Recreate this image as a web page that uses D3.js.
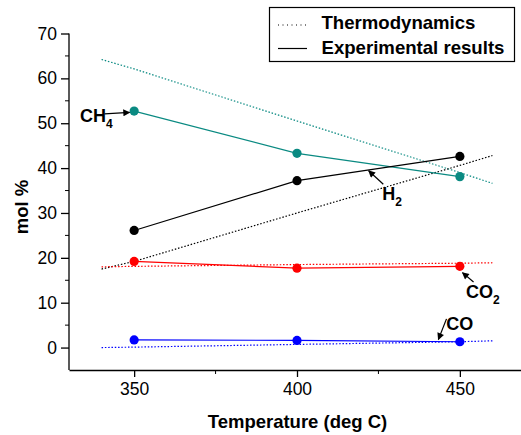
<!DOCTYPE html>
<html>
<head>
<meta charset="utf-8">
<script src="https://cdn.jsdelivr.net/npm/d3@7"></script>
<style>
  body { margin: 0; background: #fff; }
  text { font-family: "Liberation Sans", Arial, sans-serif; }
</style>
</head>
<body>
<div id="wrapper"></div>
<script>
// experimental results
const expTemps = [350, 400, 450]
const expCH4 = [52.7, 43.3, 38.1]
const expH2 = [26.1, 37.2, 42.6]
const expCO2 = [19.2, 17.7, 18.1]
const expCO = [1.7, 1.6, 1.3]

// thermodynamic equilibrium (dotted)
const thermoTemps = [340, 350, 400, 450, 460]
const thermoCH4 = [64.2, 62.1, 50.5, 39.0, 36.6]
const thermoH2 = [17.5, 19.2, 30.0, 40.6, 42.8]
const thermoCO2 = [18.0, 18.1, 18.5, 18.8, 18.9]
const thermoCO = [0.0, 0.1, 0.7, 1.3, 1.5]

const speciesColors = ['#0a8a82', '#000000', '#ff0000', '#0000ff']

const xTicks = [350, 400, 450]
const xMinorTicks = [375, 425]
const yTicks = [0, 10, 20, 30, 40, 50, 60, 70]
const yMinorTicks = [5, 15, 25, 35, 45, 55, 65]

// annotation: label, subscript, text pos, arrow from -> to (data units)
const annotations = [
  { label: 'CH', sub: '4', tx: 333.4, ty: 50.3, x1: 340.9, y1: 52.1, x2: 348.6, y2: 52.4 },
  { label: 'H', sub: '2', tx: 426.2, ty: 32.9, x1: 426.5, y1: 36.4, x2: 422.0, y2: 39.4 },
  { label: 'CO', sub: '2', tx: 451.9, ty: 11.0, x1: 454.2, y1: 14.6, x2: 450.8, y2: 16.7 },
  { label: 'CO', sub: '', tx: 445.8, ty: 4.0, x1: 445.9, y1: 6.4, x2: 443.4, y2: 1.8 },
]

const width = 521
const height = 435

const svg = d3.select('#wrapper').append('svg')
  .attr('width', width)
  .attr('height', height)

const defs = svg.append('defs')
defs.append('marker')
  .attr('id', 'arrow')
  .attr('viewBox', '0 0 10 10')
  .attr('refX', 9)
  .attr('refY', 5)
  .attr('markerWidth', 9)
  .attr('markerHeight', 7)
  .attr('markerUnits', 'userSpaceOnUse')
  .attr('orient', 'auto')
  .append('path')
  .attr('d', 'M0,0 L10,5 L0,10 z')
  .attr('fill', '#000')

// Scales
const xScale = d3.scaleLinear().domain([330, 470]).range([69, 525])
const yScale = d3.scaleLinear().domain([-5, 70]).range([370, 33.5])

// Axes
const yAxis = svg.append('g')
  .attr('transform', 'translate(69,0)')
  .call(d3.axisLeft(yScale).tickValues(yTicks).tickSize(8).tickPadding(4).tickSizeOuter(0))
yAxis.select('.domain').attr('d', `M0,${yScale(-5)}V${yScale(70)}`)
yAxis.selectAll('g.minor').data(yMinorTicks).enter()
  .append('line')
  .attr('x1', -4).attr('x2', 0)
  .attr('y1', (d) => yScale(d)).attr('y2', (d) => yScale(d))
  .attr('stroke', '#000')

const xAxis = svg.append('g')
  .attr('transform', `translate(0,${yScale(-5)})`)
  .call(d3.axisBottom(xScale).tickValues(xTicks).tickSize(7).tickPadding(6).tickSizeOuter(0))
xAxis.selectAll('g.minor').data(xMinorTicks).enter()
  .append('line')
  .attr('x1', (d) => xScale(d)).attr('x2', (d) => xScale(d))
  .attr('y1', 0).attr('y2', 4)
  .attr('stroke', '#000')

svg.selectAll('.tick text').style('font-size', '17.5px').attr('fill', '#000')
svg.selectAll('.domain, .tick line').attr('stroke', '#000').attr('stroke-width', 1.3)

svg.append('text')
  .attr('transform', 'translate(28,207) rotate(-90)')
  .attr('text-anchor', 'middle')
  .style('font-size', '18.5px')
  .style('font-weight', 'bold')
  .text('mol %')

svg.append('text')
  .attr('x', 297.5)
  .attr('y', 428)
  .attr('text-anchor', 'middle')
  .style('font-size', '18.5px')
  .style('font-weight', 'bold')
  .text('Temperature (deg C)')

// Lines
const line = d3.line()
  .x((d) => xScale(d[0]))
  .y((d) => yScale(d[1]))

const thermoSeries = [thermoCH4, thermoH2, thermoCO2, thermoCO]
const expSeries = [expCH4, expH2, expCO2, expCO]

thermoSeries.forEach((vals, i) => {
  svg.append('path')
    .attr('fill', 'none')
    .attr('stroke', speciesColors[i])
    .attr('stroke-width', 1.2)
    .attr('stroke-dasharray', '1.5,1.8')
    .attr('d', line(thermoTemps.map((t, j) => [t, vals[j]])))
})

expSeries.forEach((vals, i) => {
  const pts = expTemps.map((t, j) => [t, vals[j]])
  svg.append('path')
    .attr('fill', 'none')
    .attr('stroke', speciesColors[i])
    .attr('stroke-width', 1.2)
    .attr('d', line(pts))
  svg.append('g').selectAll('circle')
    .data(pts)
    .enter()
    .append('circle')
    .attr('cx', (d) => xScale(d[0]))
    .attr('cy', (d) => yScale(d[1]))
    .attr('r', 4.6)
    .attr('fill', speciesColors[i])
})

// Annotations
annotations.forEach((a) => {
  svg.append('line')
    .attr('x1', xScale(a.x1)).attr('y1', yScale(a.y1))
    .attr('x2', xScale(a.x2)).attr('y2', yScale(a.y2))
    .attr('stroke', '#000')
    .attr('stroke-width', 1.2)
    .attr('marker-end', 'url(#arrow)')
  const t = svg.append('text')
    .attr('x', xScale(a.tx))
    .attr('y', yScale(a.ty))
    .style('font-size', '18px')
    .style('font-weight', 'bold')
  t.append('tspan').text(a.label)
  if (a.sub) {
    t.append('tspan').attr('dy', 6).style('font-size', '12px').text(a.sub)
  }
})

// Legend
const legend = svg.append('g')
legend.append('rect')
  .attr('x', 269.5).attr('y', 7.5)
  .attr('width', 245).attr('height', 54)
  .attr('fill', '#fff')
  .attr('stroke', '#000')
  .attr('stroke-width', 1.2)
const legendItems = [
  { label: 'Thermodynamics', dash: '1,3.5', y: 25, textY: 28.5 },
  { label: 'Experimental results', dash: null, y: 48.5, textY: 53.5 },
]
legendItems.forEach((d) => {
  legend.append('line')
    .attr('x1', 278).attr('x2', 307)
    .attr('y1', d.y).attr('y2', d.y)
    .attr('stroke', '#000')
    .attr('stroke-width', 1.2)
    .attr('stroke-dasharray', d.dash)
  legend.append('text')
    .attr('x', 321.5)
    .attr('y', d.textY)
    .style('font-size', '18.6px')
    .style('font-weight', 'bold')
    .text(d.label)
})
</script>
</body>
</html>
